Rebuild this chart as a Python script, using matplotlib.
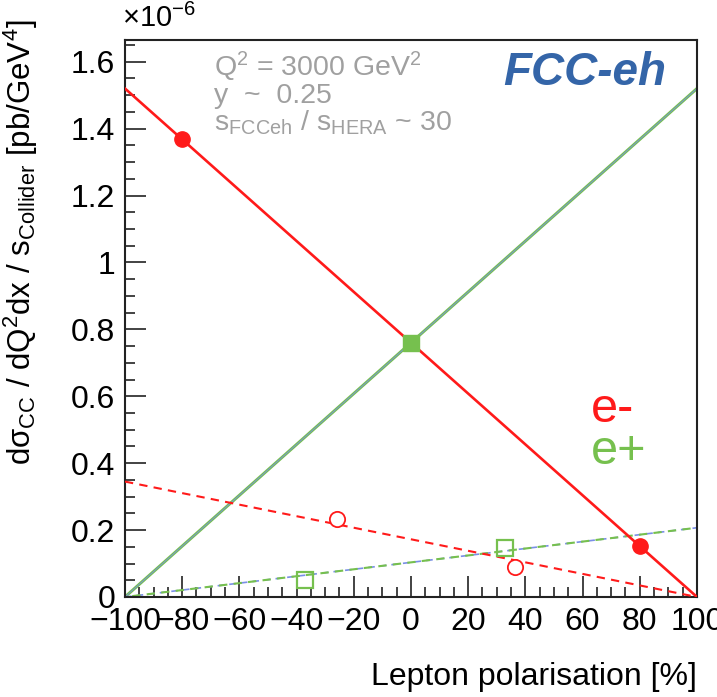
import numpy as np
import matplotlib
matplotlib.use("Agg")
import matplotlib.pyplot as plt
from matplotlib.ticker import MultipleLocator

plt.rcParams["font.family"] = ["Liberation Sans", "DejaVu Sans"]
plt.rcParams["mathtext.fontset"] = "custom"
plt.rcParams["mathtext.rm"] = "Liberation Sans"
plt.rcParams["mathtext.it"] = "Liberation Sans:italic"

# polarisation range and cross sections (units of 1e-6 pb/GeV^4)
pol_range = [-100, 100]
em_cc_fcc = [1.52, 0.0]      # e- at FCC-eh
ep_cc_fcc = [0.0, 1.52]      # e+ at FCC-eh
em_cc_hera = [0.345, 0.0]    # e- at HERA (scaled)
ep_cc_hera = [0.0, 0.207]    # e+ at HERA (scaled)

# measured / projected points
em_pts_x = [-80, 80]
em_pts_y = [1.37, 0.152]
ep_pts_x = [0]
ep_pts_y = [0.76]
em_hera_x = [-25.9, 36.4]
em_hera_y = [0.232, 0.09]
ep_hera_x = [-37.1, 32.9]
ep_hera_y = [0.05, 0.147]

x_ticks = [-100, -80, -60, -40, -20, 0, 20, 40, 60, 80, 100]
x_ticklabels = ["\u2212100", "\u221280", "\u221260", "\u221240", "\u221220",
                "0", "20", "40", "60", "80", "100"]
y_ticks = [0, 0.2, 0.4, 0.6, 0.8, 1.0, 1.2, 1.4, 1.6]
y_ticklabels = ["0", "0.2", "0.4", "0.6", "0.8", "1", "1.2", "1.4", "1.6"]

red = "#ff1a1a"
green = "#76c04e"
blue = "#7a8fe6"

fig = plt.figure(figsize=(7.17, 6.97), dpi=100)
ax = fig.add_axes([0.1743, 0.1435, 0.7978, 0.7991])

# e- lines
ax.plot(pol_range, em_cc_fcc, color=red, lw=1.9, zorder=3)
ax.plot(pol_range, em_cc_hera, color=red, lw=1.5, ls=(0, (4, 3)), zorder=3)
ax.plot(em_pts_x, em_pts_y, "o", color=red, ms=11, zorder=5)
ax.plot(em_hera_x, em_hera_y, "o", mfc="white", mec=red, mew=1.3, ms=11, zorder=5)

# e+ lines (green with thin blue overlay)
ax.plot(pol_range, ep_cc_fcc, color=green, lw=2.2, zorder=2)
ax.plot(pol_range, ep_cc_fcc, color=blue, lw=0.6, zorder=2)
ax.plot(pol_range, ep_cc_hera, color=blue, lw=1.2, ls=(0, (4, 3)), zorder=2)
ax.plot(pol_range, ep_cc_hera, color=green, lw=1.5, ls=(3.5, (4, 3)), zorder=2)
ax.plot(ep_pts_x, ep_pts_y, "s", color=green, ms=12, zorder=6)
ax.plot(ep_hera_x, ep_hera_y, "s", mfc="none", mec=green, mew=1.6, ms=12, zorder=5)

ax.set_xlim(-100, 100)
ax.set_ylim(0, 1.665)
ax.set_xticks(x_ticks)
ax.set_xticklabels(x_ticklabels)
ax.set_yticks(y_ticks)
ax.set_yticklabels(y_ticklabels)
ax.xaxis.set_minor_locator(MultipleLocator(5))
ax.yaxis.set_minor_locator(MultipleLocator(0.05))
ax.tick_params(which="both", direction="in", top=False, right=False,
               labelsize=23, width=1.2, color="#222222")
ax.tick_params(which="major", length=15, pad=7)
ax.tick_params(which="minor", length=7)
for sp in ax.spines.values():
    sp.set_linewidth(1.5)
    sp.set_color("#222222")

ax.set_xlabel("Lepton polarisation [%]", fontsize=23, loc="right", labelpad=18)
ax.set_ylabel("d\u03c3$_{\\rm CC}$ / dQ$^{2}$dx / s$_{\\rm Collider}$ [pb/GeV$^{4}$]",
              fontsize=22.5, loc="top")
ax.yaxis.set_label_coords(-0.148, 1.036)

fig.text(0.170, 0.953, "\u00d710$^{-6}$", fontsize=21, ha="left", va="bottom")

# run conditions
grey = "#a0a0a0"
ax.text(0.155, 0.952, "Q$^{2}$ = 3000 GeV$^{2}$", transform=ax.transAxes,
        fontsize=20.5, color=grey, va="center")
ax.text(0.155, 0.900, "y  ~  0.25", transform=ax.transAxes,
        fontsize=20.5, color=grey, va="center")
ax.text(0.155, 0.852, "s$_{\\rm FCCeh}$ / s$_{\\rm HERA}$ ~ 30", transform=ax.transAxes,
        fontsize=20.5, color=grey, va="center")
ax.text(0.662, 0.94, "FCC-eh", transform=ax.transAxes, fontsize=33,
        color="#3465a8", fontweight="bold", fontstyle="italic", va="center")
ax.text(0.815, 0.337, "e-", transform=ax.transAxes, fontsize=35, color=red, va="center")
ax.text(0.815, 0.262, "e+", transform=ax.transAxes, fontsize=35, color=green, va="center")

fig.savefig("out.png", dpi=100)
